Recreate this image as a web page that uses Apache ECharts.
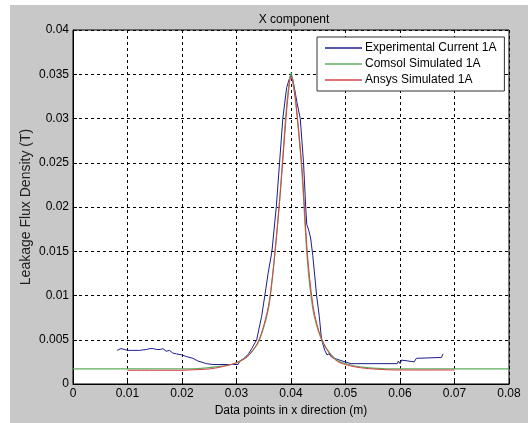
<!DOCTYPE html>
<html>
<head>
<meta charset="utf-8">
<style>
  html, body { margin: 0; padding: 0; background: #fff; }
  #frame { position: absolute; left: 10px; top: 5px; width: 518px; height: 418px; background: #c8c8c8; }
  #chart { position: absolute; left: 0; top: 0; width: 528px; height: 423px; }
</style>
<script src="https://cdn.jsdelivr.net/npm/echarts@6/dist/echarts.min.js"></script>
</head>
<body>
<div id="frame"></div>
<div id="chart"></div>
<script>
// Experimental Current 1A
var expX = [0.0081, 0.0088, 0.0095, 0.0098, 0.0100, 0.0102, 0.0107, 0.0122, 0.0135, 0.0141, 0.0147, 0.0153, 0.0156, 0.0160, 0.0165, 0.0171, 0.0177, 0.0183, 0.0190, 0.0199, 0.0208, 0.0220, 0.0229, 0.0245, 0.0257, 0.0294, 0.0303, 0.0306, 0.0314, 0.0322, 0.0328, 0.0337, 0.0346, 0.0352, 0.0358, 0.0365, 0.0373, 0.0379, 0.0385, 0.0392, 0.0397, 0.0400, 0.0403, 0.0407, 0.0411, 0.0417, 0.0423, 0.0427, 0.0429, 0.0432, 0.0436, 0.0440, 0.0447, 0.0452, 0.0456, 0.0462, 0.0466, 0.0470, 0.0475, 0.0499, 0.0510, 0.0595, 0.0597, 0.0600, 0.0603, 0.0606, 0.0626, 0.0630, 0.0676, 0.0679];
var expY = [0.0038, 0.0040, 0.0039, 0.0040, 0.0038, 0.0039, 0.0038, 0.0038, 0.0039, 0.0040, 0.0040, 0.0039, 0.0040, 0.0039, 0.0040, 0.0037, 0.0038, 0.0035, 0.0034, 0.0033, 0.0031, 0.0029, 0.0026, 0.0023, 0.0022, 0.0022, 0.0022, 0.0026, 0.0029, 0.0034, 0.0040, 0.0050, 0.0076, 0.0100, 0.0125, 0.0150, 0.0200, 0.0250, 0.0300, 0.0335, 0.0345, 0.0349, 0.0345, 0.0332, 0.0318, 0.0300, 0.0250, 0.0200, 0.0180, 0.0175, 0.0165, 0.0145, 0.0100, 0.0076, 0.0050, 0.0038, 0.0033, 0.0034, 0.0030, 0.0025, 0.0023, 0.0023, 0.0026, 0.0023, 0.0027, 0.0025, 0.0025, 0.0029, 0.0030, 0.0034];

// Comsol Simulated 1A
var comsolX = [0, 0.010, 0.020, 0.024, 0.027, 0.029, 0.030, 0.031, 0.032, 0.033, 0.034, 0.035, 0.036, 0.037, 0.038, 0.039, 0.0395, 0.040, 0.0405, 0.041, 0.042, 0.043, 0.044, 0.045, 0.046, 0.047, 0.048, 0.049, 0.050, 0.052, 0.055, 0.060, 0.070, 0.080];
var comsolY = [0.0017, 0.0017, 0.0017, 0.0018, 0.0020, 0.0022, 0.0024, 0.0027, 0.0031, 0.0038, 0.0047, 0.0064, 0.0090, 0.0145, 0.0215, 0.0300, 0.0332, 0.0352, 0.0336, 0.0310, 0.0240, 0.0140, 0.0085, 0.0060, 0.0045, 0.0036, 0.0029, 0.0025, 0.0023, 0.0020, 0.0018, 0.0017, 0.0017, 0.0017];

// Ansys Simulated 1A
var ansysX = [0.010, 0.020, 0.022, 0.025, 0.027, 0.029, 0.030, 0.031, 0.032, 0.033, 0.034, 0.035, 0.036, 0.037, 0.038, 0.039, 0.0395, 0.040, 0.0405, 0.041, 0.042, 0.043, 0.044, 0.045, 0.046, 0.047, 0.048, 0.049, 0.050, 0.052, 0.055, 0.058, 0.060, 0.070];
var ansysY = [0.00155, 0.00155, 0.0016, 0.0017, 0.0019, 0.0022, 0.0024, 0.0027, 0.0031, 0.0038, 0.0048, 0.0066, 0.0093, 0.0145, 0.0213, 0.0293, 0.0328, 0.0347, 0.0335, 0.0312, 0.0245, 0.0148, 0.0090, 0.0062, 0.0046, 0.0035, 0.0028, 0.0024, 0.0022, 0.0019, 0.0017, 0.0016, 0.00158, 0.00158];

function pairs(xs, ys) {
  return xs.map(function (x, i) { return [x, ys[i]]; });
}

var chart = echarts.init(document.getElementById('chart'));
var font = 'Liberation Sans, Arial, sans-serif';

chart.setOption({
  animation: false,
  backgroundColor: 'transparent',
  title: {
    text: 'X component',
    left: 289,
    top: 9,
    textAlign: 'center',
    textStyle: { color: '#000', fontSize: 12, fontWeight: 'normal', fontFamily: font }
  },
  legend: {
    orient: 'vertical',
    left: 317,
    top: 37,
    width: 186,
    backgroundColor: '#fff',
    borderColor: '#333',
    borderWidth: 1,
    padding: [5, 8, 5, 8],
    itemGap: 4,
    itemWidth: 37,
    itemHeight: 1.5,
    icon: 'rect',
    textStyle: { color: '#000', fontSize: 12, fontFamily: font, padding: [0, 0, 0, -2] },
    data: ['Experimental Current 1A', 'Comsol Simulated 1A', 'Ansys Simulated 1A']
  },
  grid: {
    left: 73,
    top: 30,
    right: 19,
    bottom: 39,
    show: true,
    backgroundColor: '#fff',
    borderColor: '#000',
    borderWidth: 1
  },
  xAxis: {
    type: 'value',
    min: 0,
    max: 0.08,
    interval: 0.01,
    name: 'Data points in x direction (m)',
    nameLocation: 'middle',
    nameGap: 20,
    nameTextStyle: { color: '#000', fontSize: 12, fontFamily: font },
    axisLine: { lineStyle: { color: '#000' } },
    axisTick: { inside: true, length: 4, lineStyle: { color: '#000' } },
    axisLabel: {
      color: '#000', fontSize: 12, fontFamily: font, margin: 4,
      formatter: function (v) { return String(parseFloat(v.toFixed(3))); }
    },
    splitLine: { show: true, lineStyle: { color: '#000', type: [3, 3], width: 1 } }
  },
  yAxis: {
    type: 'value',
    min: 0,
    max: 0.04,
    interval: 0.005,
    name: 'Leakage Flux Density (T)',
    nameLocation: 'middle',
    nameGap: 40,
    nameMoveOverlap: false,
    nameTextStyle: { color: '#222', fontSize: 14, fontFamily: font },
    axisLine: { show: true, lineStyle: { color: '#000' } },
    axisTick: { show: true, inside: true, length: 4, lineStyle: { color: '#000' } },
    axisLabel: {
      color: '#000', fontSize: 12, fontFamily: font, margin: 4,
      formatter: function (v) { return String(parseFloat(v.toFixed(4))); }
    },
    splitLine: { show: true, lineStyle: { color: '#000', type: [3, 3], width: 1 } }
  },
  series: [
    {
      name: 'Experimental Current 1A',
      type: 'line',
      symbol: 'none',
      data: pairs(expX, expY),
      lineStyle: { color: '#1c1c8c', width: 1 },
      itemStyle: { color: '#1c1c8c' }
    },
    {
      name: 'Comsol Simulated 1A',
      type: 'line',
      symbol: 'none',
      smooth: 0.3,
      data: pairs(comsolX, comsolY),
      lineStyle: { color: '#5fae5f', width: 1.2 },
      itemStyle: { color: '#5fae5f' }
    },
    {
      name: 'Ansys Simulated 1A',
      type: 'line',
      symbol: 'none',
      smooth: 0.3,
      data: pairs(ansysX, ansysY),
      lineStyle: { color: '#d8404c', width: 1 },
      itemStyle: { color: '#d8404c' }
    }
  ]
});
</script>
</body>
</html>
